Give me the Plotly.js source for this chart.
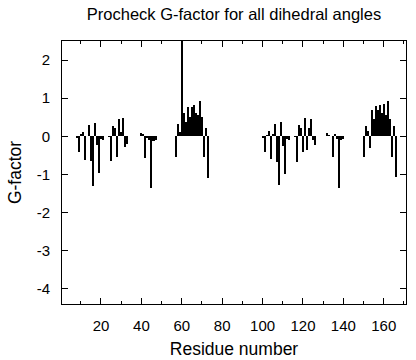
<!DOCTYPE html>
<html>
<head>
<meta charset="utf-8">
<script src="https://cdn.plot.ly/plotly-3.0.1.min.js"></script>
<style>html,body{margin:0;padding:0;background:#fff;}</style>
</head>
<body>
<div id="chart" style="width:416px;height:360px;"></div>
<script>
// Residue numbers and their Procheck G-factor
const residues = [
  8, 9, 10, 11, 12, 13, 14, 15, 16, 17, 18, 19, 20, 21,
  24, 25, 26, 27, 28, 29, 30, 31, 32, 33,
  40, 41, 42, 43, 44, 45, 46, 47,
  57, 58, 59, 60, 61, 62, 63, 64, 65, 66, 67, 68, 69, 70, 71, 72, 73,
  100, 101, 102, 103, 104, 105, 106, 107, 108, 109, 110, 111, 112, 113,
  116, 117, 118, 119, 120, 121, 122, 123, 124, 125, 126,
  132, 133, 135, 136, 137, 138, 139, 140,
  150, 151, 152, 153, 154, 155, 156, 157, 158, 159, 160, 161, 162, 163, 164, 165, 166
];
const gFactor = [
  -0.05, -0.42, 0.05, 0.10, -0.62, 0.02, 0.30, -0.66, -1.30, 0.36, -0.22, -0.97, -0.08, -0.10,
  -0.02, -0.65, 0.26, 0.22, -0.55, 0.45, 0.12, 0.48, -0.28, -0.20,
  0.08, 0.05, -0.56, -0.05, -0.10, -1.36, -0.12, -0.10,
  -0.55, 0.33, 0.12, 3.00, 0.60, 0.38, 0.78, 0.50, 0.78, 0.82, 0.62, 0.55, 0.92, 0.50, -0.55, 0.22, -1.10,
  -0.05, -0.42, 0.03, 0.13, -0.60, 0.05, 0.31, -0.68, -1.28, 0.38, -0.25, -0.98, -0.08, -0.10,
  -0.02, -0.67, 0.30, 0.22, -0.42, 0.48, -0.35, 0.22, 0.46, -0.10, -0.22,
  0.08, 0.03, -0.55, 0.07, -0.08, -1.36, -0.10, -0.06,
  -0.55, 0.28, 0.15, -0.32, 0.68, 0.45, 0.80, 0.70, 0.82, 0.60, 0.85, 0.55, 0.92, 0.45, -0.55, 0.26, -1.08
];
const xTickVals = [20, 40, 60, 80, 100, 120, 140, 160];
const xTickText = ['20', '40', '60', '80', '100', '120', '140', '160'];
const yTickVals = [2, 1, 0, -1, -2, -3, -4];
const yTickText = ['2', '1', '0', '-1', '-2', '-3', '-4'];

const font = 'Liberation Sans, Arial, Helvetica, sans-serif';

Plotly.newPlot('chart', [{
  type: 'bar',
  x: residues,
  y: gFactor,
  width: 1,
  marker: {color: '#000000', line: {width: 0}},
  hoverinfo: 'x+y'
}], {
  width: 416, height: 360,
  margin: {l: 62, r: 10, t: 41, b: 56, pad: 0},
  paper_bgcolor: '#ffffff', plot_bgcolor: '#ffffff',
  showlegend: false,
  font: {family: font, color: '#000000', size: 14},
  title: {
    text: 'Procheck G-factor for all dihedral angles',
    font: {family: font, size: 16.5, color: '#000000'},
    x: 0.5, xref: 'paper', y: 0.96, yref: 'container', yanchor: 'middle'
  },
  xaxis: {
    range: [0.7, 171],
    tickvals: xTickVals, ticktext: xTickText,
    ticks: 'inside', ticklen: 6, tickwidth: 1, tickcolor: '#000',
    mirror: 'ticks', showline: true, linecolor: '#000', linewidth: 1,
    showgrid: false, zeroline: false,
    minor: {dtick: 10, tick0: 0, ticks: 'inside', ticklen: 3, tickcolor: '#000', showgrid: false},
    ticklabelstandoff: 8,
    tickfont: {family: font, size: 15},
    title: {text: 'Residue number', font: {family: font, size: 17.5}, standoff: 9}
  },
  yaxis: {
    range: [-4.4, 2.5],
    tickvals: yTickVals, ticktext: yTickText,
    ticks: 'inside', ticklen: 6, tickwidth: 1, tickcolor: '#000',
    mirror: 'ticks', showline: true, linecolor: '#000', linewidth: 1,
    showgrid: false, zeroline: false,
    ticklabelstandoff: 8,
    tickfont: {family: font, size: 15},
    title: {text: 'G-factor', font: {family: font, size: 17.5}, standoff: 10}
  },
  bargap: 0
}, {displayModeBar: false, staticPlot: true});
</script>
</body>
</html>
